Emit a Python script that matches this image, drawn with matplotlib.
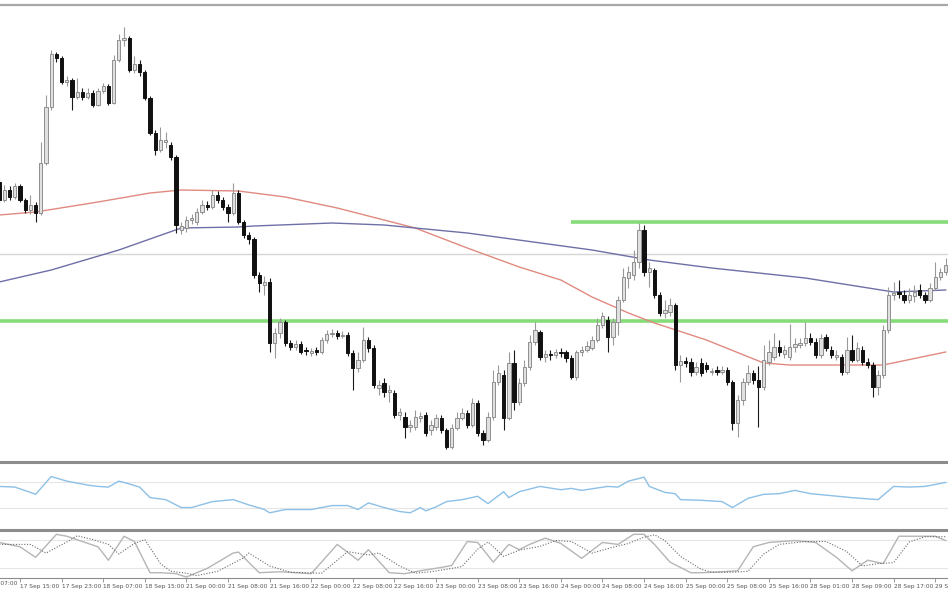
import datetime as dt
import numpy as np
import matplotlib
matplotlib.use("Agg")
import matplotlib.pyplot as plt

# ---- price data (hourly candles, price in pips above base) ----
opens = [288, 270, 280, 273, 284, 270, 260, 265, 257, 307, 363, 416, 412, 388, 390, 373, 378, 373, 377, 365,
         379, 384, 367, 410, 430, 432, 400, 406, 398, 372, 337, 320, 328, 325, 313, 240, 242, 250, 248, 258,
         265, 263, 275, 270, 263, 257, 277, 248, 235, 231, 195, 185, 188, 127, 137, 148, 127, 123, 126, 120,
         117, 120, 118, 130, 136, 137, 134, 135, 117, 102, 110, 130, 122, 82, 87, 78, 77, 55, 53, 43,
         43, 52, 55, 40, 43, 52, 40, 23, 42, 52, 57, 45, 67, 37, 30, 53, 88, 95, 52, 107,
         68, 87, 103, 128, 138, 113, 116, 115, 118, 118, 112, 93, 118, 120, 122, 130, 145, 150, 133, 148,
         170, 192, 195, 208, 240, 198, 200, 175, 157, 158, 165, 105, 109, 108, 98, 107, 105, 98, 100, 98,
         100, 88, 47, 70, 88, 97, 90, 83, 108, 113, 123, 116, 113, 123, 125, 127, 132, 128, 115, 133,
         120, 113, 113, 98, 120, 110, 120, 108, 105, 83, 95, 140, 175, 178, 175, 170, 174, 180, 175, 170,
         182, 193, 198]
highs = [292, 285, 284, 287, 286, 272, 275, 268, 328, 375, 420, 418, 414, 394, 392, 392, 382, 382, 380, 382,
         387, 386, 415, 436, 443, 434, 414, 410, 400, 374, 340, 343, 338, 328, 315, 248, 254, 256, 262, 270,
         269, 280, 279, 273, 266, 287, 280, 250, 238, 233, 198, 194, 192, 142, 152, 150, 130, 130, 129, 123,
         122, 123, 133, 140, 141, 140, 139, 138, 120, 118, 143, 133, 125, 90, 92, 85, 80, 62, 58, 50,
         60, 58, 58, 50, 56, 55, 42, 46, 58, 62, 60, 72, 70, 40, 58, 100, 105, 100, 118, 120,
         92, 110, 135, 148, 140, 120, 120, 121, 122, 120, 115, 120, 124, 129, 134, 152, 158, 154, 152, 174,
         202, 204, 220, 247, 245, 208, 202, 178, 170, 172, 167, 115, 113, 112, 108, 112, 108, 102, 104, 104,
         103, 90, 75, 92, 105, 100, 104, 125, 130, 137, 130, 125, 146, 132, 132, 148, 137, 132, 136, 136,
         124, 120, 116, 133, 135, 128, 124, 112, 108, 100, 145, 183, 188, 190, 180, 182, 185, 186, 178, 187,
         208, 202, 212]
lows = [267, 268, 270, 271, 268, 257, 256, 248, 255, 305, 360, 408, 386, 384, 360, 371, 370, 371, 363, 364,
        377, 365, 366, 408, 424, 398, 397, 394, 370, 335, 315, 318, 322, 310, 237, 236, 238, 246, 245, 256,
        260, 261, 267, 260, 248, 255, 246, 232, 226, 192, 178, 175, 118, 112, 132, 124, 120, 120, 116, 115,
        114, 115, 116, 127, 133, 131, 132, 114, 80, 98, 108, 118, 82, 75, 73, 68, 52, 50, 32, 38,
        40, 48, 34, 35, 40, 37, 21, 21, 40, 50, 42, 43, 34, 25, 28, 50, 85, 40, 50, 60,
        65, 84, 100, 125, 110, 108, 110, 112, 113, 108, 91, 90, 114, 118, 120, 128, 142, 118, 125, 135,
        168, 182, 190, 202, 194, 183, 172, 154, 152, 154, 100, 88, 103, 94, 95, 94, 98, 95, 95, 96,
        85, 40, 33, 65, 85, 86, 43, 80, 105, 110, 114, 112, 110, 118, 122, 124, 125, 112, 112, 119,
        112, 110, 95, 96, 108, 108, 105, 102, 73, 75, 92, 137, 170, 172, 167, 167, 168, 172, 167, 168,
        180, 190, 195]
closes = [270, 280, 273, 284, 270, 260, 265, 257, 307, 363, 416, 412, 388, 390, 373, 378, 373, 377, 365, 379,
          384, 367, 410, 430, 432, 400, 406, 398, 372, 337, 320, 330, 330, 313, 245, 244, 250, 252, 258, 265,
          263, 275, 270, 263, 257, 277, 248, 235, 231, 195, 187, 188, 127, 137, 148, 127, 123, 126, 118, 119,
          119, 118, 130, 136, 137, 134, 135, 117, 102, 110, 130, 122, 85, 85, 78, 80, 55, 58, 43, 45,
          53, 54, 37, 45, 52, 40, 23, 42, 52, 57, 45, 67, 37, 30, 53, 88, 97, 52, 107, 68,
          87, 103, 128, 140, 113, 116, 115, 118, 117, 112, 93, 118, 120, 124, 130, 145, 154, 133, 148, 170,
          193, 198, 208, 240, 198, 202, 175, 157, 160, 165, 105, 109, 107, 98, 103, 97, 101, 99, 98, 100,
          88, 47, 70, 88, 97, 90, 83, 110, 118, 123, 118, 120, 123, 126, 127, 132, 128, 115, 132, 122,
          115, 115, 98, 120, 110, 122, 108, 105, 83, 95, 140, 175, 177, 176, 170, 175, 178, 175, 170, 182,
          193, 198, 205]

# ---- moving averages, sampled at bar index ----
ma_red_bars = [0, 7, 19, 29, 35, 46, 55, 65, 74, 80, 90, 100, 108, 114, 121, 126, 136, 147, 152, 170, 182]
ma_red_vals = [255, 258, 268, 277, 280, 279, 273, 262, 250, 242, 222, 203, 190, 173, 157, 147, 130, 107, 105, 105, 118]
ma_blue_bars = [0, 10, 23, 35, 46, 49, 64, 74, 90, 114, 125, 137, 155, 172, 182]
ma_blue_vals = [188, 200, 220, 242, 243, 244, 247, 245, 237, 220, 210, 202, 192, 178, 180]

# ---- horizontal levels ----
level_gray = 216
level_green_hi = 248
level_green_hi_start = 110
level_green_lo = 149

# ---- RSI ----
rsi_bars = [0, 3, 6, 7, 10, 13, 17, 19, 21, 23, 24, 27, 29, 32, 35, 37, 41, 45, 48, 51,
            52, 55, 60, 64, 67, 69, 71, 74, 77, 79, 81, 82, 84, 86, 89, 92, 94, 97, 98, 100,
            104, 108, 110, 112, 117, 119, 121, 124, 125, 128, 130, 131, 135, 139, 141, 144, 147, 150, 153, 156,
            160, 164, 169, 172, 175, 178, 182]
rsi_vals = [63, 62, 54, 51, 78, 71, 65, 63, 62, 71, 69, 62, 46, 43, 31, 31, 40, 43, 35, 28,
            23, 28, 28, 34, 34, 28, 38, 31, 25, 23, 31, 26, 32, 40, 43, 48, 37, 55, 46, 55,
            63, 58, 60, 57, 63, 62, 71, 77, 63, 54, 52, 43, 42, 40, 31, 45, 51, 52, 57, 52,
            49, 46, 43, 63, 62, 63, 69]

# ---- Stochastic ----
stoch_bars = [0, 4, 7, 11, 13, 16, 19, 21, 24, 26, 29, 31, 34, 36, 40, 45, 46, 50, 54, 60,
              65, 69, 71, 75, 78, 81, 85, 87, 90, 92, 95, 98, 100, 102, 105, 108, 112, 116, 119, 122,
              124, 126, 129, 133, 135, 139, 142, 145, 148, 153, 157, 161, 164, 167, 170, 173, 176, 180, 182]
stoch_main = [74, 65, 43, 91, 87, 76, 65, 37, 87, 76, 11, 11, 9, 2, 20, 52, 54, 11, 13, 9,
              70, 37, 59, 11, 9, 15, 22, 26, 76, 74, 33, 70, 59, 70, 83, 72, 41, 74, 70, 91,
              91, 70, 33, 11, 11, 13, 15, 65, 74, 78, 74, 43, 15, 37, 30, 87, 87, 87, 78]
signal_bars = [0, 6, 9, 13, 15, 18, 21, 23, 26, 28, 31, 33, 36, 38, 42, 47, 48, 52, 56, 62,
               67, 71, 73, 77, 80, 83, 87, 89, 92, 94, 97, 100, 102, 104, 107, 110, 114, 118, 121, 124,
               126, 128, 131, 135, 137, 141, 144, 147, 150, 155, 159, 163, 166, 169, 172, 175, 178, 182]
stoch_signal = [70, 70, 52, 75, 88, 80, 70, 50, 72, 80, 30, 14, 10, 5, 14, 42, 52, 25, 12, 10,
                55, 48, 52, 25, 10, 13, 20, 24, 60, 75, 45, 58, 62, 66, 78, 76, 52, 64, 72, 85,
                90, 78, 45, 18, 12, 12, 14, 50, 70, 76, 76, 55, 25, 30, 32, 75, 86, 86]

# ---- time axis: hourly bars, weekend gap Fri 23:00 .. Sun 23:00 ----
first_bar = dt.datetime(2015, 9, 17, 11, 0)
times = []
t = first_bar
while len(times) < len(closes):
    weekend = (t.weekday() == 4 and t.hour == 23) or t.weekday() in (5, 6)
    if not weekend:
        times.append(t)
    t += dt.timedelta(hours=1)

W, H = 948, 593
XLIM = (0.15, 182.45)
fig = plt.figure(figsize=(W / 100, H / 100), dpi=100)


def panel(top_px, bottom_px):
    ax = fig.add_axes([0, 1 - bottom_px / H, 1, (bottom_px - top_px) / H])
    ax.set_xlim(*XLIM)
    for s in ("left", "right", "bottom"):
        ax.spines[s].set_visible(False)
    ax.spines["top"].set_color("#8c8c8c")
    ax.spines["top"].set_linewidth(2.2)
    ax.set_yticks([])
    ax.set_xticks([])
    return ax


ax = panel(5, 460)
ax_rsi = panel(462, 528)
ax_st = panel(530, 578)
ax.spines["top"].set_linewidth(1.6)
ax.spines["top"].set_color("#a8a8a8")

# candles
o = np.array(opens)
h = np.array(highs)
l = np.array(lows)
c = np.array(closes)
x = np.arange(len(c))
bull = c >= o
ax.vlines(x[bull], l[bull], h[bull], color="#9a9a9a", lw=0.8, zorder=3)
ax.vlines(x[~bull], l[~bull], h[~bull], color="#1a1a1a", lw=0.8, zorder=3)
body_lo = np.minimum(o, c)
body_h = np.maximum(np.abs(c - o), 1.2)
ax.bar(x[bull], body_h[bull], bottom=body_lo[bull], width=0.64, color="#e0e0e0",
       edgecolor="#8f8f8f", linewidth=0.7, zorder=4)
ax.bar(x[~bull], body_h[~bull], bottom=body_lo[~bull], width=0.64, color="#111111",
       edgecolor="#111111", linewidth=0.7, zorder=4)

ax.axhline(level_gray, color="#d6d6d6", lw=1.0, zorder=1)
ax.axhline(level_green_lo, color="#86dc78", lw=2.6, zorder=2)
ax.hlines(level_green_hi, level_green_hi_start, 183, color="#86dc78", lw=2.6, zorder=2)
ax.plot(ma_red_bars, ma_red_vals, color="#e08a80", lw=1.0, zorder=2)
ax.plot(ma_blue_bars, ma_blue_vals, color="#6f6fa8", lw=1.0, zorder=2)
ax.set_ylim(470 - 460, 470 - 5)

# RSI panel
ax_rsi.set_ylim(0, 100)
for lv in (70, 30):
    ax_rsi.axhline(lv, color="#e6e6e6", lw=0.8)
ax_rsi.plot(rsi_bars, rsi_vals, color="#8cc0e6", lw=1.0)

# stochastic panel
ax_st.set_ylim(0, 100)
for lv in (80, 20):
    ax_st.axhline(lv, color="#e6e6e6", lw=0.8)
ax_st.plot(stoch_bars, stoch_main, color="#b5b5b5", lw=1.0)
ax_st.plot(signal_bars, stoch_signal, color="#6a6a6a", lw=0.8, ls=(0, (1, 1.5)))
ax_st.spines["bottom"].set_visible(True)
ax_st.spines["bottom"].set_color("#8c8c8c")
ax_st.spines["bottom"].set_linewidth(0.8)

# time labels every 8 bars, text starts right of the tick (MT4 style)
tick_idx = [i for i in range(len(times)) if (i - 4) % 8 == 0]
ax_st.set_xticks(tick_idx)
ax_st.set_xticklabels([times[i].strftime("%d %b %H:%M").lstrip("0") for i in tick_idx],
                      fontsize=4.2, color="#555555", ha="left")
ax_st.tick_params(axis="x", length=3, width=0.6, color="#8c8c8c", pad=1.5)
ax_st.set_xlim(*XLIM)

# label of the tick just left of the window, only its tail is visible
prev_label = (first_bar - dt.timedelta(hours=4)).strftime("%d %b %H:%M").lstrip("0")
ax_st.text(-4.0, -0.06, prev_label, transform=ax_st.get_xaxis_transform(),
           fontsize=4.2, color="#555555", ha="left", va="top", clip_on=False)

fig.savefig("out.png", dpi=100)
